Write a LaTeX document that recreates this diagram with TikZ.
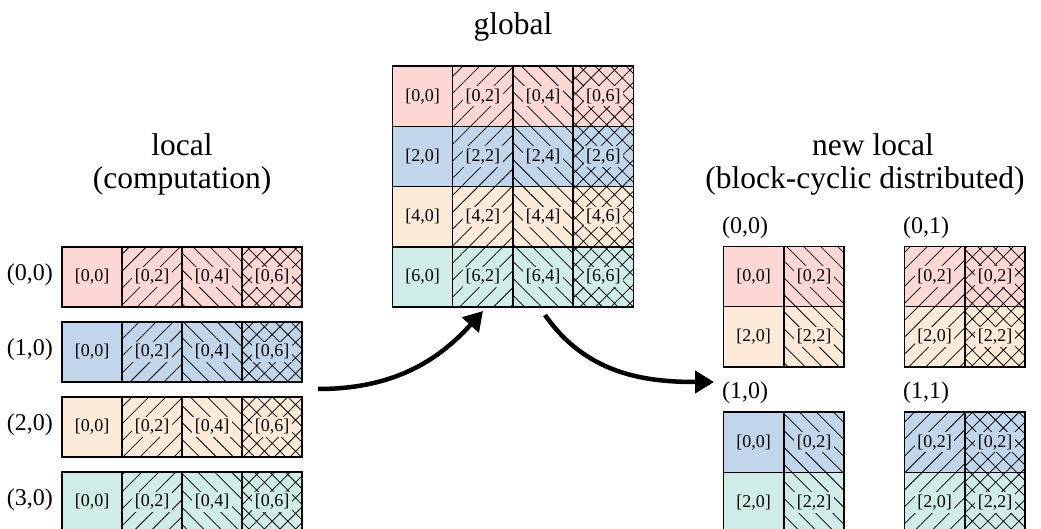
\documentclass[tikz,border=0pt]{standalone}
\usepackage{fontspec}
\setmainfont{Liberation Serif}
\usetikzlibrary{patterns.meta,arrows.meta}

\definecolor{cpink}{RGB}{252,215,212}
\definecolor{cblue}{RGB}{193,214,234}
\definecolor{cpeach}{RGB}{253,234,216}
\definecolor{cteal}{RGB}{208,236,231}

\setlength\fboxsep{2.5pt}

\tikzset{
  cellbox/.style={draw=black, line width=1.5pt, minimum width=60.3pt,
    minimum height=60.3pt, inner sep=0pt, font=\fontsize{18}{21}\selectfont},
  solidcell/.style={fill=#1},
  necell/.style={preaction={fill=#1},
    pattern={Lines[angle=45,distance=12pt,line width=0.75pt]}},
  nwcell/.style={preaction={fill=#1},
    pattern={Lines[angle=-45,distance=12pt,line width=0.75pt]}},
  xcell/.style={preaction={fill=#1},
    pattern={Hatch[angle=45,distance=11pt,line width=0.75pt]}},
  title/.style={font=\fontsize{31.5}{34}\selectfont, inner sep=0pt, anchor=base},
  rank/.style={font=\fontsize{24}{27}\selectfont, inner sep=0pt},
  flow/.style={line width=4.5pt, -{Triangle[length=19pt,width=22pt]}},
}

% one block of the matrix: name, x, y, fill kind, colour, label
\newcommand\mkcell[6]{\node[cellbox,#4=#5] (#1) at (#2,#3) {\colorbox{#5}{#6}};}

\begin{document}
\begin{tikzpicture}[x=1pt,y=-1pt]
\useasboundingbox (0,0) rectangle (1041,529);

% titles
\node[title] (t-global) at (513,35) {global};
\node[title] (t-local-a) at (182,156) {local};
\node[title] (t-local-b) at (182,189) {(computation)};
\node[title] (t-new-a) at (873,156) {new local};
\node[title] (t-new-b) at (865,189) {(block-cyclic distributed)};

% global matrix
\foreach \r/\col in {0/cpink,1/cblue,2/cpeach,3/cteal} {
  \pgfmathsetmacro\yy{96.25+60.25*\r}
  \pgfmathtruncatemacro\ra{2*\r}
  \mkcell{g-\r-0}{422.5}{\yy}{solidcell}{\col}{[\ra,0]}
  \mkcell{g-\r-1}{482.75}{\yy}{necell}{\col}{[\ra,2]}
  \mkcell{g-\r-2}{543}{\yy}{nwcell}{\col}{[\ra,4]}
  \mkcell{g-\r-3}{603.25}{\yy}{xcell}{\col}{[\ra,6]}
}

% local rows, one per process
\foreach \r/\col in {0/cpink,1/cblue,2/cpeach,3/cteal} {
  \pgfmathsetmacro\yy{277+75*\r}
  \node[rank, anchor=east] (lr-\r) at (53,\yy-2) {(\r,0)};
  \mkcell{l-\r-0}{92}{\yy}{solidcell}{\col}{[0,0]}
  \mkcell{l-\r-1}{152}{\yy}{necell}{\col}{[0,2]}
  \mkcell{l-\r-2}{212}{\yy}{nwcell}{\col}{[0,4]}
  \mkcell{l-\r-3}{272}{\yy}{xcell}{\col}{[0,6]}
}

% new local blocks on the 2x2 process grid
\node[rank, anchor=west] (p00) at (722,228) {(0,0)};
\node[rank, anchor=west] (p01) at (903,228) {(0,1)};
\node[rank, anchor=west] (p10) at (722,393) {(1,0)};
\node[rank, anchor=west] (p11) at (903,393) {(1,1)};

\mkcell{n00-a}{753.5}{276.5}{solidcell}{cpink}{[0,0]}
\mkcell{n00-b}{814}{276.5}{nwcell}{cpink}{[0,2]}
\mkcell{n00-c}{753.5}{336.75}{solidcell}{cpeach}{[2,0]}
\mkcell{n00-d}{814}{336.75}{nwcell}{cpeach}{[2,2]}

\mkcell{n01-a}{934.5}{276.5}{necell}{cpink}{[0,2]}
\mkcell{n01-b}{995}{276.5}{xcell}{cpink}{[0,2]}
\mkcell{n01-c}{934.5}{336.75}{necell}{cpeach}{[2,0]}
\mkcell{n01-d}{995}{336.75}{xcell}{cpeach}{[2,2]}

\mkcell{n10-a}{753.5}{442.25}{solidcell}{cblue}{[0,0]}
\mkcell{n10-b}{814}{442.25}{nwcell}{cblue}{[0,2]}
\mkcell{n10-c}{753.5}{502.5}{solidcell}{cteal}{[2,0]}
\mkcell{n10-d}{814}{502.5}{nwcell}{cteal}{[2,2]}

\mkcell{n11-a}{934.5}{442.25}{necell}{cblue}{[0,2]}
\mkcell{n11-b}{995}{442.25}{xcell}{cblue}{[0,2]}
\mkcell{n11-c}{934.5}{502.5}{necell}{cteal}{[2,0]}
\mkcell{n11-d}{995}{502.5}{xcell}{cteal}{[2,2]}

% data movement
\coordinate (gather-from) at (318,389);
\coordinate (gather-to) at (483,311);
\coordinate (scatter-from) at (545,315);
\coordinate (scatter-to) at (714,382);
\draw[flow] (gather-from) to[out=0,in=228] (gather-to);
\draw[flow] (scatter-from) to[out=-55,in=180] (scatter-to);
\end{tikzpicture}
\end{document}
